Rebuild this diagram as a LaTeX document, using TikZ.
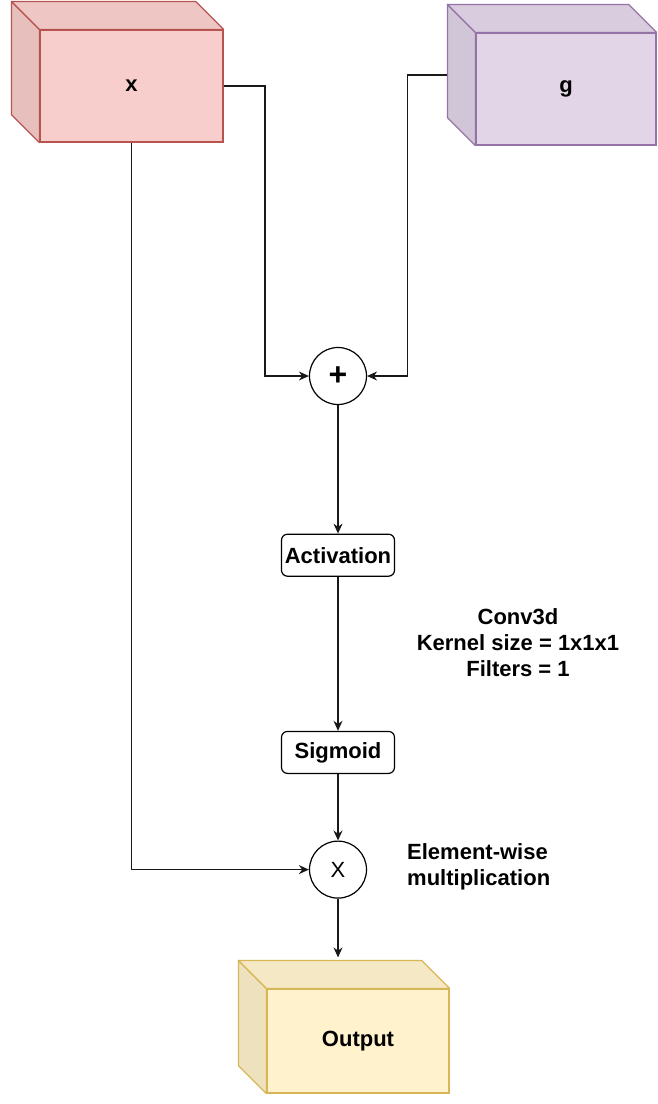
\documentclass[tikz,border=0pt]{standalone}
\usepackage{fontspec}
\setmainfont{Liberation Sans}
\usetikzlibrary{positioning,arrows.meta}
\definecolor{XFill}{HTML}{F8CECC}
\definecolor{XLine}{HTML}{B85450}
\definecolor{GFill}{HTML}{E1D5E7}
\definecolor{GLine}{HTML}{9673A6}
\definecolor{OutFill}{HTML}{FFF2CC}
\definecolor{OutLine}{HTML}{D6B656}

\begin{document}
\begin{tikzpicture}[x=1pt,y=-1pt,
  every node/.style={font=\fontsize{22}{26}\selectfont\bfseries},
  link/.style={-{Stealth[length=10pt,width=9pt]},line width=1.2pt,black!90},
  opbox/.style={draw,rounded corners=6pt,fill=white,line width=1.2pt,minimum width=113pt,minimum height=42pt,inner sep=0pt},
  sumnode/.style={draw,circle,fill=white,line width=1.2pt,minimum size=57pt,inner sep=0pt},
  cubefront/.style={draw,line width=1.2pt,minimum height=112pt,inner sep=0pt}]
\useasboundingbox (0,0) rectangle (657,1104);

% input volumes
\node[cubefront,fill=XFill,draw=XLine,minimum width=183pt] (xin) at (131.5,86) {x};
\node[cubefront,fill=GFill,draw=GLine,minimum width=180pt] (gin) at (566,89) {g};
\node[cubefront,fill=OutFill,draw=OutLine,minimum width=182pt,minimum height=104pt] (out) at (358,1041) {Output};
\foreach \n/\f/\l in {xin/XFill/XLine,gin/GFill/GLine,out/OutFill/OutLine}{
  \filldraw[fill=\f!93!black,draw=\l,line width=1.2pt,line join=round]
    (\n.north west) -- ([shift={(-28,-28)}]\n.north west) -- ([shift={(-28,-28)}]\n.south west) -- (\n.south west) -- cycle;
  \filldraw[fill=\f!96!black,draw=\l,line width=1.2pt,line join=round]
    (\n.north west) -- ([shift={(-28,-28)}]\n.north west) -- ([shift={(-28,-28)}]\n.north east) -- (\n.north east) -- cycle;
}

% gate
\node[sumnode,font=\fontsize{32}{32}\selectfont\bfseries] (plus) at (338,376) {+};
\node[opbox,below=128.5pt of plus] (act) {Activation};
\node[opbox,below=154pt of act] (sig) {Sigmoid};
\node[sumnode,font=\fontsize{22}{26}\selectfont,below=66.5pt of sig] (mul) {X};
\coordinate (outtop) at ([yshift=31pt]out.north);

\node[align=center] (convlbl) at (518,643) {Conv3d\\Kernel size = 1x1x1\\Filters = 1};
\node[align=left,anchor=west,inner sep=0pt] (mullbl) at (407,867) {Element-wise\\multiplication};

\draw[link] (xin.east) -| ([xshift=-44pt]plus.west) -- (plus.west);
\draw[link] ([shift={(-28,-14)}]gin.west) -| ([xshift=40pt]plus.east) -- (plus.east);
\draw[link] (plus) -- (act);
\draw[link] (act) -- (sig);
\draw[link] (sig) -- (mul);
\draw[link] (xin.south) |- (mul.west);
\draw[link] (mul) -- (mul |- outtop);
\end{tikzpicture}
\end{document}
